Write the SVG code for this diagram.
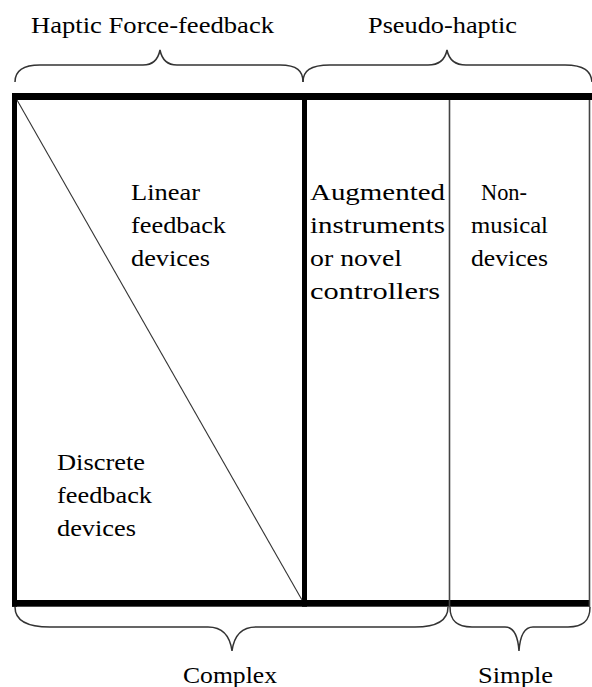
<svg xmlns="http://www.w3.org/2000/svg" width="592" height="687" viewBox="0 0 592 687">
<style>
.t{font-family:'Liberation Serif','DejaVu Serif','Times New Roman',serif;font-size:23px;fill:#000;}
.brace{fill:none;stroke:#333;stroke-width:1.5;}
.thick{fill:#000;}
.thin{stroke:#444;stroke-width:1.6;fill:none;}
</style>
<rect width="592" height="687" fill="#fff"/>
<g id="labels-top" class="t">
<text x="31" y="33" textLength="243" lengthAdjust="spacingAndGlyphs">Haptic Force-feedback</text>
<text x="368" y="33" textLength="149" lengthAdjust="spacingAndGlyphs">Pseudo-haptic</text>
</g>
<g id="braces">
<path class="brace" d="M15,82 C15,71 22,65 40,65 L143,65 C153,65 158,60 160,50 C162,60 167,65 177,65 L280,65 C297,65 303,71 303,82"/>
<path class="brace" d="M303,82 C303,71 310,65 330,65 L428,65 C439,65 445,60 447,50 C449,60 455,65 466,65 L565,65 C584,65 591,71 592,82"/>
<path class="brace" d="M15,607 C15,620 25,627 50,627 L208,627 C222,627 230,636 232,651 C234,636 242,627 256,627 L415,627 C438,627 448,620 448,607"/>
<path class="brace" d="M450,607 C450,620 456,627 472,627 L505,627 C514,627 518,636 519,651 C520,636 524,627 533,627 L568,627 C584,627 590,620 590,607"/>
</g>
<g id="frame">
<rect class="thick" x="12" y="93" width="580" height="7"/>
<rect class="thick" x="12" y="600" width="578" height="6.7"/>
<rect class="thick" x="12" y="93" width="5" height="513.7"/>
<rect class="thick" x="302" y="93" width="5" height="513.7"/>
<line class="thin" x1="449.5" y1="100" x2="449.5" y2="607"/>
<line class="thin" x1="589.5" y1="100" x2="589.5" y2="607"/>
<line x1="17" y1="100" x2="302" y2="600" stroke="#333" stroke-width="1.1"/>
</g>
<g id="node-linear" class="t">
<text x="131" y="200" textLength="69" lengthAdjust="spacingAndGlyphs">Linear</text>
<text x="131" y="233" textLength="95" lengthAdjust="spacingAndGlyphs">feedback</text>
<text x="131" y="266" textLength="79" lengthAdjust="spacingAndGlyphs">devices</text>
</g>
<g id="node-discrete" class="t">
<text x="57" y="470" textLength="88" lengthAdjust="spacingAndGlyphs">Discrete</text>
<text x="57" y="503" textLength="95" lengthAdjust="spacingAndGlyphs">feedback</text>
<text x="57" y="536" textLength="79" lengthAdjust="spacingAndGlyphs">devices</text>
</g>
<g id="node-augmented" class="t">
<text x="310" y="200" textLength="135" lengthAdjust="spacingAndGlyphs">Augmented</text>
<text x="310" y="233" textLength="135" lengthAdjust="spacingAndGlyphs">instruments</text>
<text x="310" y="266" textLength="92" lengthAdjust="spacingAndGlyphs">or novel</text>
<text x="310" y="299" textLength="130" lengthAdjust="spacingAndGlyphs">controllers</text>
</g>
<g id="node-nonmusical" class="t">
<text x="481" y="200" textLength="46" lengthAdjust="spacingAndGlyphs">Non-</text>
<text x="471" y="233" textLength="77" lengthAdjust="spacingAndGlyphs">musical</text>
<text x="471" y="266" textLength="77" lengthAdjust="spacingAndGlyphs">devices</text>
</g>
<g id="labels-bottom" class="t">
<text x="183" y="683" textLength="94" lengthAdjust="spacingAndGlyphs">Complex</text>
<text x="478" y="683" textLength="75" lengthAdjust="spacingAndGlyphs">Simple</text>
</g>
</svg>
